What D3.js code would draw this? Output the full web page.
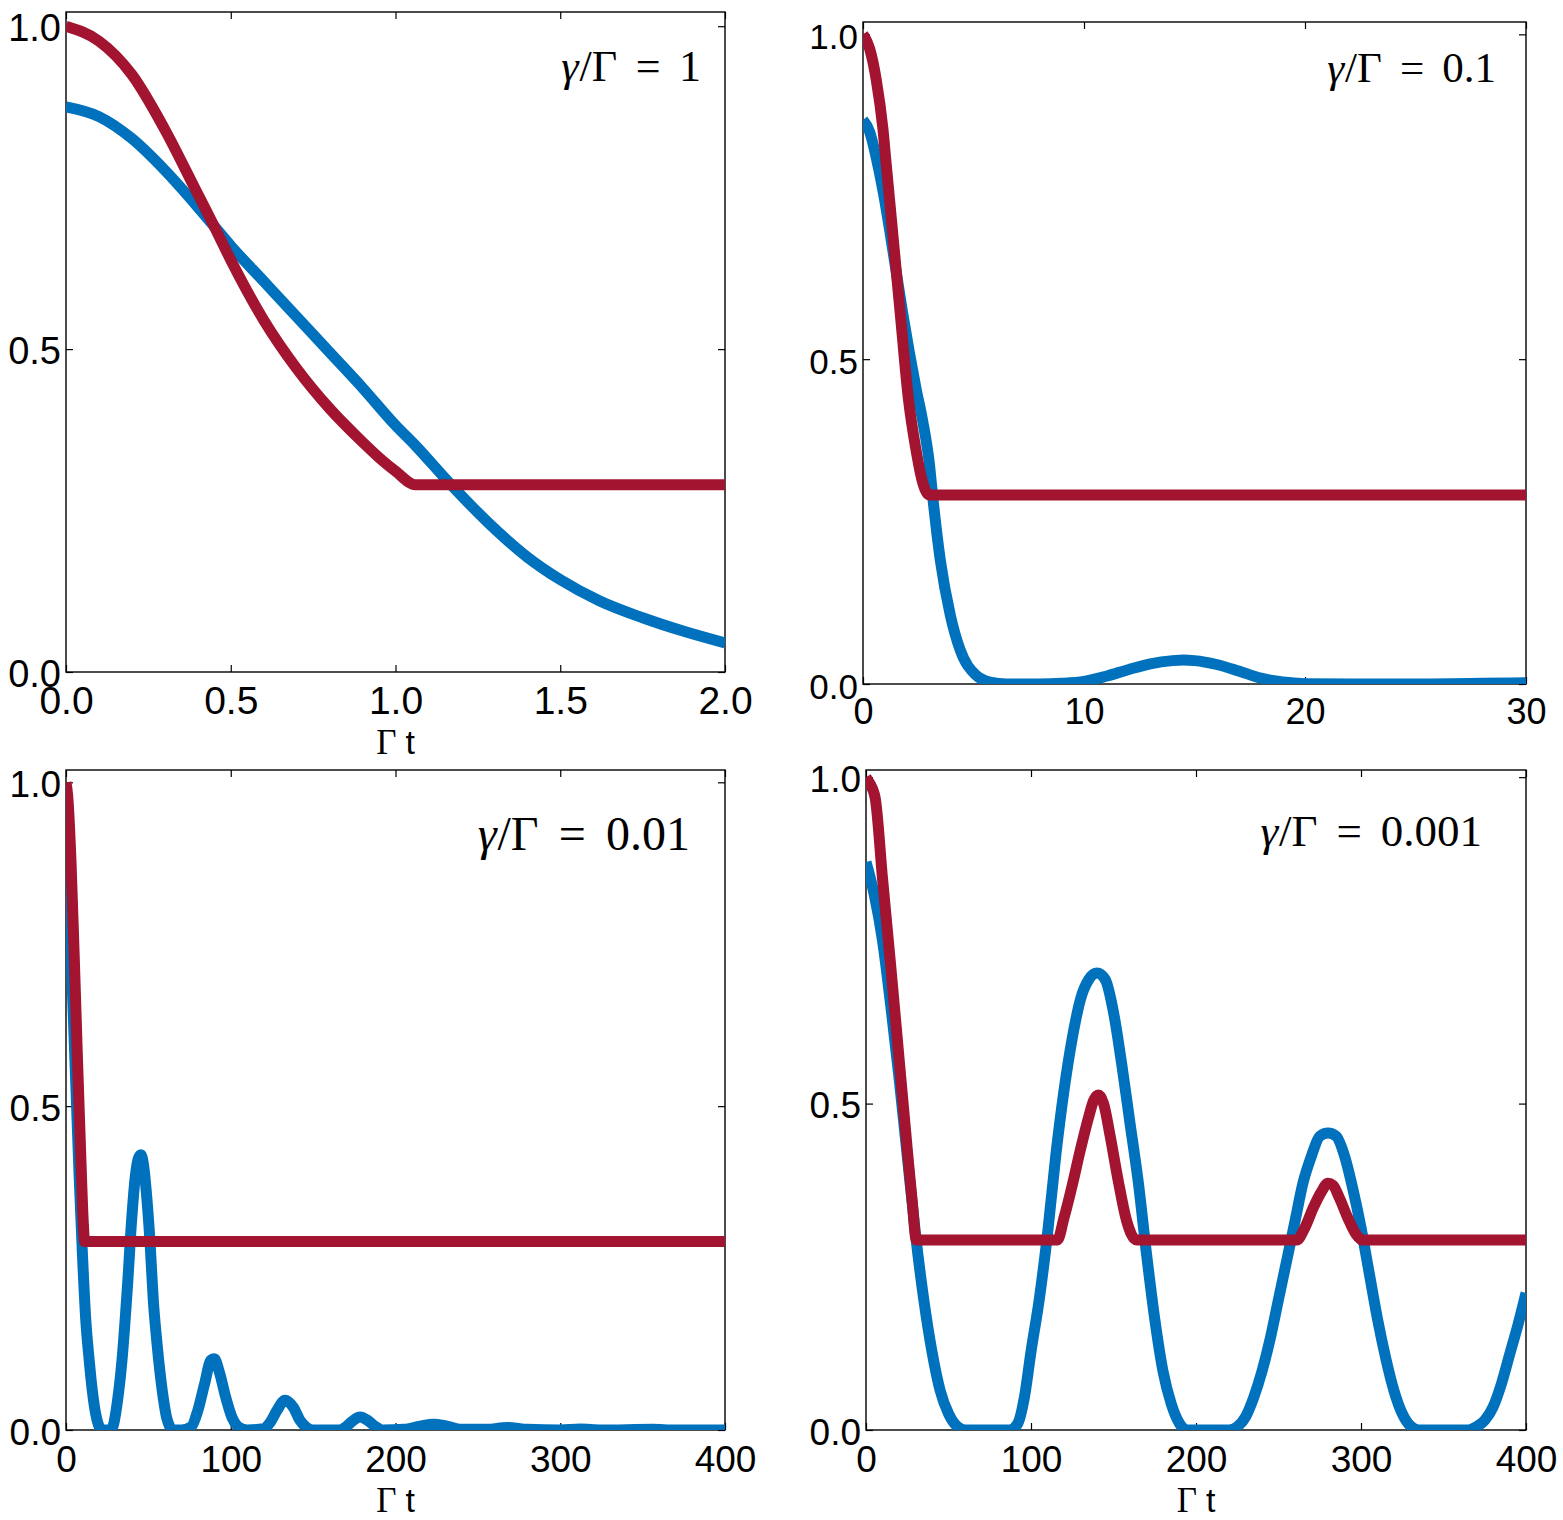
<!DOCTYPE html>
<meta charset="utf-8">
<style>
  body {
    margin: 0;
    background: #fff;
  }

  .blue {
    fill: none;
    stroke: #0072bd;
  }

  .red {
    fill: none;
    stroke: #a2142f;
  }

  .tick line {
    stroke: #000;
    stroke-width: 1.2;
  }
</style>

<body>
  <svg width="1563" height="1520"></svg>

  <script src="https://d3js.org/d3.v7.min.js"></script>
  <script>
    // ratio shown in each panel
    var ratios = ["1", "0.1", "0.01", "0.001"];

    // tick values and labels
    var xTicks1 = [0, 0.5, 1, 1.5, 2];
    var xLabels1 = ["0.0", "0.5", "1.0", "1.5", "2.0"];
    var xTicks2 = [0, 10, 20, 30];
    var xLabels2 = ["0", "10", "20", "30"];
    var xTicks34 = [0, 100, 200, 300, 400];
    var xLabels34 = ["0", "100", "200", "300", "400"];
    var yTicks = [0, 0.5, 1];
    var yLabels = ["0.0", "0.5", "1.0"];

    // panel 1 (gamma/Gamma = 1)
    var blue1T = [0, 0.1, 0.2, 0.3, 0.4, 0.45, 0.5, 0.6, 0.7, 0.8, 0.9, 1.0, 1.06, 1.165, 1.28, 1.4, 1.5, 1.62, 1.75, 1.875, 2.0];
    var blue1Y = [0.875, 0.86, 0.826, 0.777, 0.72, 0.69, 0.66, 0.605, 0.55, 0.495, 0.44, 0.382, 0.351, 0.292, 0.232, 0.178, 0.143, 0.11, 0.084, 0.063, 0.045];
    var red1T = [0, 0.1, 0.2, 0.3, 0.4, 0.45, 0.5, 0.6, 0.7, 0.8, 0.9, 0.95, 1.0, 1.06, 2.0];
    var red1Y = [1.0, 0.977, 0.925, 0.84, 0.74, 0.69, 0.638, 0.545, 0.47, 0.408, 0.356, 0.332, 0.311, 0.29, 0.29];

    // panel 2 (gamma/Gamma = 0.1)
    var blue2T = [0, 0.3, 0.6, 0.9, 1.2, 1.5, 1.8, 2.1, 2.4, 2.7, 3.0, 3.15, 3.5, 3.95, 4.4, 5.1, 5.75, 6.5, 8, 9, 10, 11, 12, 13, 14, 14.5, 15, 16, 17, 18, 19, 20, 22, 25, 28, 30];
    var blue2Y = [0.868, 0.85, 0.81, 0.76, 0.70, 0.635, 0.57, 0.51, 0.455, 0.405, 0.34, 0.29, 0.19, 0.106, 0.052, 0.014, 0.003, 0.0, 0.0, 0.001, 0.004, 0.012, 0.022, 0.031, 0.036, 0.037, 0.036, 0.03, 0.02, 0.009, 0.003, 0.0005, 0, 0, 0.001, 0.002];
    var red2T = [0, 0.3, 0.6, 0.9, 1.05, 1.3, 1.7, 2.05, 2.4, 2.7, 3.0, 30];
    var red2Y = [1.0, 0.978, 0.93, 0.855, 0.8, 0.71, 0.565, 0.44, 0.36, 0.31, 0.291, 0.291];

    // panel 3 (gamma/Gamma = 0.01)
    var blue3T = [0, 2, 4, 6, 8, 10, 12, 14, 16, 18, 20, 22, 27, 29, 31, 34, 37, 40, 42, 44, 45.5, 47, 49, 51, 53, 55, 57, 59, 61, 63, 65,
      70, 76, 80, 84, 88, 90, 93, 97, 101, 105, 110, 120, 124, 128, 133, 138, 142, 146, 150, 166, 170, 174, 178.5, 183, 188, 192,
      205, 215, 223, 231, 240, 255, 268, 280, 300, 312, 325, 356, 370, 400];
    var blue3Y = [0.868, 0.8, 0.67, 0.53, 0.39, 0.27, 0.17, 0.11, 0.06, 0.025, 0.006, 0, 0, 0.01, 0.04, 0.108, 0.21, 0.33, 0.39, 0.42, 0.425, 0.41, 0.36, 0.29, 0.2, 0.14, 0.09, 0.05, 0.02, 0.005, 0,
      0, 0.005, 0.03, 0.07, 0.108, 0.11, 0.09, 0.05, 0.018, 0.004, 0, 0.002, 0.012, 0.03, 0.046, 0.035, 0.015, 0.004, 0, 0, 0.005, 0.014, 0.02, 0.015, 0.005, 0,
      0.001, 0.006, 0.009, 0.006, 0.001, 0.001, 0.004, 0.001, 0, 0.0015, 0, 0.001, 0, 0];
    var red3T = [0, 1, 3, 5, 7, 9, 10.5, 11.3, 400];
    var red3Y = [1.0, 0.98, 0.88, 0.73, 0.57, 0.42, 0.32, 0.291, 0.291];

    // panel 4 (gamma/Gamma = 0.001)
    var blue4T = [0, 5, 10, 15, 20, 25, 30, 35, 40, 45, 50, 55, 60, 87, 92, 96, 100, 105, 110, 115, 120, 125, 130, 135, 140, 145, 150, 155, 160, 165, 170, 175, 180, 185, 190, 195,
      220, 225, 230, 235, 240, 245, 250, 255, 260, 265, 270, 275, 280, 285, 290, 295, 300, 305, 310, 315, 320, 325, 330, 335,
      365, 370, 375, 380, 385, 390, 395, 400];
    var blue4Y = [0.87, 0.82, 0.75, 0.65, 0.54, 0.42, 0.3, 0.2, 0.12, 0.06, 0.025, 0.006, 0, 0, 0.01, 0.05, 0.12, 0.2, 0.3, 0.42, 0.52, 0.6, 0.66, 0.69, 0.70, 0.69, 0.64, 0.56, 0.47, 0.38, 0.27, 0.17, 0.09, 0.04, 0.01, 0,
      0, 0.005, 0.02, 0.05, 0.09, 0.14, 0.2, 0.26, 0.32, 0.38, 0.42, 0.45, 0.455, 0.45, 0.42, 0.37, 0.31, 0.24, 0.17, 0.11, 0.06, 0.025, 0.006, 0,
      0, 0.005, 0.015, 0.035, 0.07, 0.115, 0.16, 0.21];
    var red4T = [0, 1.2, 5.5, 10, 15, 20, 25, 28, 30.5, 116, 120, 125, 130, 135, 138, 141, 144, 148, 153, 158, 164,
      261, 266, 271, 276, 280, 283, 287, 292, 297, 301, 400];
    var red4Y = [1.0, 0.995, 0.969, 0.845, 0.71, 0.57, 0.43, 0.35, 0.291, 0.291, 0.325, 0.375, 0.43, 0.48, 0.505, 0.513, 0.5, 0.45, 0.38, 0.32, 0.291,
      0.291, 0.31, 0.34, 0.365, 0.378, 0.375, 0.355, 0.325, 0.3, 0.291, 0.291];

    function zip(ts, ys) {
      return ts.map(function(t, i) {
        return [t, ys[i]];
      });
    }

    // layout of the four axes boxes
    var panels = [
      { left: 66, right: 725, top: 12, bottom: 672, xmax: 2, ymax: 1.022, xTicks: xTicks1, xLabels: xLabels1,
        blue: zip(blue1T, blue1Y), red: zip(red1T, red1Y), font: 39, yfont: 38, xdy: 42, tag: { x: 701, y: 81, size: 44 }, xlabel: true },
      { left: 863, right: 1526, top: 22, bottom: 684, xmax: 30, ymax: 1.019, xTicks: xTicks2, xLabels: xLabels2,
        blue: zip(blue2T, blue2Y), red: zip(red2T, red2Y), font: 36, yfont: 35, xdy: 40, tag: { x: 1496, y: 82, size: 43 }, xlabel: false },
      { left: 66, right: 725, top: 770, bottom: 1430, xmax: 400, ymax: 1.019, xTicks: xTicks34, xLabels: xLabels34,
        blue: zip(blue3T, blue3Y), red: zip(red3T, red3Y), font: 37, yfont: 37, xdy: 42, tag: { x: 690, y: 850, size: 48 }, xlabel: true },
      { left: 866, right: 1526, top: 770, bottom: 1430, xmax: 400, ymax: 1.011, xTicks: xTicks34, xLabels: xLabels34,
        blue: zip(blue4T, blue4Y), red: zip(red4T, red4Y), font: 37, yfont: 37, xdy: 42, tag: { x: 1482, y: 846, size: 45 }, xlabel: true }
    ];

    var svg = d3.select("svg");
    svg.append("rect").attr("width", 1563).attr("height", 1520).attr("fill", "#fff");

    panels.forEach(function(p, k) {
      var x = d3.scaleLinear().domain([0, p.xmax]).range([p.left, p.right]);
      var y = d3.scaleLinear().domain([0, p.ymax]).range([p.bottom, p.top]);
      var g = svg.append("g");

      // bottom axis with labels
      var bx = g.append("g")
        .attr("transform", "translate(0," + p.bottom + ")")
        .call(d3.axisBottom(x).tickValues(p.xTicks).tickSize(-7)
          .tickFormat(function(d, i) { return p.xLabels[i]; }));
      bx.selectAll("text")
        .attr("y", 0).attr("dy", p.xdy)
        .style("font-family", "'Liberation Sans', Arial, sans-serif")
        .style("font-size", p.font + "px").attr("fill", "#000");

      // top axis, ticks only
      g.append("g")
        .attr("transform", "translate(0," + p.top + ")")
        .call(d3.axisTop(x).tickValues(p.xTicks).tickSize(-7).tickFormat(""));

      // left axis with labels
      var ly = g.append("g")
        .attr("transform", "translate(" + p.left + ",0)")
        .call(d3.axisLeft(y).tickValues(yTicks).tickSize(-7)
          .tickFormat(function(d, i) { return yLabels[i]; }));
      ly.selectAll("text")
        .attr("x", -5).attr("dy", 14)
        .style("font-family", "'Liberation Sans', Arial, sans-serif")
        .style("font-size", p.yfont + "px").attr("fill", "#000");

      // right axis, ticks only
      g.append("g")
        .attr("transform", "translate(" + p.right + ",0)")
        .call(d3.axisRight(y).tickValues(yTicks).tickSize(-7).tickFormat(""));

      g.selectAll(".domain").remove();

      g.append("rect")
        .attr("x", p.left).attr("y", p.top)
        .attr("width", p.right - p.left).attr("height", p.bottom - p.top)
        .attr("fill", "none").attr("stroke", "#000").attr("stroke-width", 1.4);

      // curves, clipped to the axes box
      g.append("clipPath").attr("id", "clip" + k)
        .append("rect")
        .attr("x", p.left).attr("y", p.top)
        .attr("width", p.right - p.left).attr("height", p.bottom - p.top);

      var line = d3.line()
        .x(function(d) { return x(d[0]); })
        .y(function(d) { return y(d[1]); })
        .curve(d3.curveMonotoneX);

      var lines = g.append("g").attr("clip-path", "url(#clip" + k + ")");
      lines.append("path").datum(p.blue).attr("class", "blue")
        .attr("stroke-width", 11).attr("stroke-linejoin", "round").attr("d", line);
      lines.append("path").datum(p.red).attr("class", "red")
        .attr("stroke-width", 11).attr("stroke-linejoin", "round").attr("d", line);

      // gamma/Gamma annotation
      var tag = g.append("text")
        .attr("x", p.tag.x).attr("y", p.tag.y)
        .attr("text-anchor", "end")
        .style("font-family", "'Liberation Serif', 'DejaVu Serif', serif")
        .style("font-size", p.tag.size + "px");
      tag.append("tspan").style("font-style", "italic").text("γ");
      tag.append("tspan").attr("dx", "0.02em").text("/Γ");
      tag.append("tspan").attr("dx", "0.42em").text("=");
      tag.append("tspan").attr("dx", "0.42em").text(ratios[k]);

      // x label
      if (p.xlabel) {
        var lab = g.append("text")
          .attr("x", (p.left + p.right) / 2).attr("y", p.bottom + 82)
          .attr("text-anchor", "middle");
        lab.append("tspan")
          .style("font-family", "'Liberation Serif', serif").style("font-size", "35px").text("Γ");
        lab.append("tspan").attr("dx", 9)
          .style("font-family", "'Liberation Sans', Arial, sans-serif").style("font-size", "34px").text("t");
      }
    });
  </script>
</body>
